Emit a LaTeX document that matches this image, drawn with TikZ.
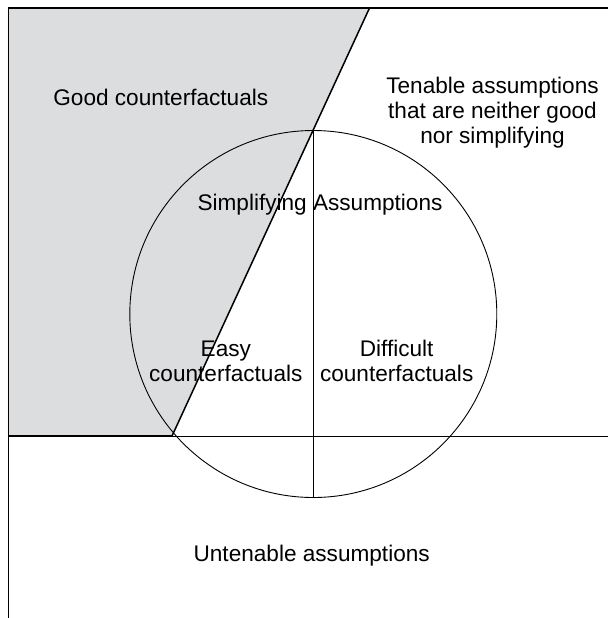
\documentclass[tikz,border=0pt]{standalone}
\usepackage{fontspec}
\setmainfont{Liberation Sans}
\definecolor{goodgray}{RGB}{220,221,223}
\begin{document}
\begin{tikzpicture}[x=0.5pt,y=-0.5pt,
  lbl/.style={inner sep=0pt, font=\fontsize{11.3}{12.5}\selectfont, align=center},
  thinline/.style={line width=0.45pt, black},
  boldline/.style={line width=0.75pt, black}]
\useasboundingbox (0,0) rectangle (608,618);
% shaded region of good counterfactuals
\coordinate (tl) at (8,8);
\coordinate (dtop) at (369.5,8);
\coordinate (dbot) at (172,436);
\coordinate (hl) at (8,436);
\coordinate (hr) at (608,436);
\coordinate (tr) at (608,8);
\coordinate (bl) at (8,618);
\fill[goodgray] (tl) -- (dtop) -- (dbot) -- (hl) -- cycle;
% circle of simplifying assumptions
\node[circle, draw, thinline, minimum size=183.5pt, inner sep=0pt] (c) at (313.3,314) {};
\draw[thinline] (c.north) -- (c.south);
% frame lines
\draw[boldline] (tl) -- (tr);
\draw[thinline] (tl) -- (bl);
\draw[boldline] (hl) -- (dbot);
\draw[thinline] (dbot) -- (hr);
\draw[boldline] (dtop) -- (dbot);
% labels (multi-line nodes: base is the baseline of the last line)
\node[lbl, anchor=base] (good) at (160.8,105) {Good counterfactuals};
\node[lbl, anchor=base] (tenable) at (492.5,143.3) {Tenable assumptions\\that are neither good\\nor simplifying};
\node[lbl, anchor=base] (simp) at (320,210) {Simplifying Assumptions};
\node[lbl, anchor=base] (easy) at (225.8,381.7) {Easy\\counterfactuals};
\node[lbl, anchor=base] (diff) at (396.7,381.7) {Difficult\\counterfactuals};
\node[lbl, anchor=base] (unten) at (311.7,561.7) {Untenable assumptions};
\end{tikzpicture}
\end{document}
